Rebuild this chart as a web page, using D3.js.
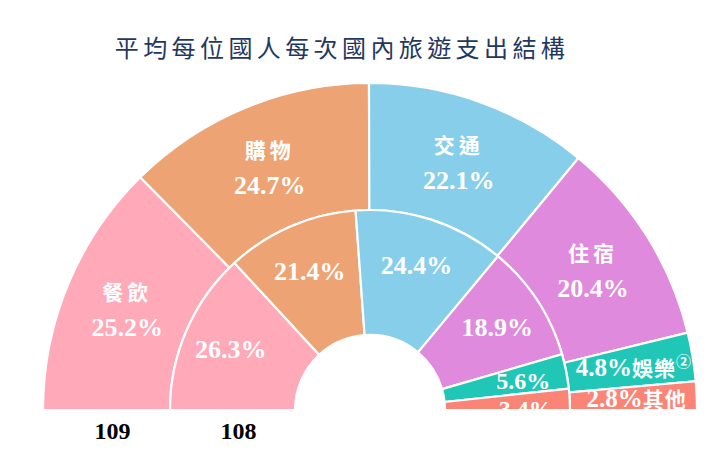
<!DOCTYPE html>
<html>
<head>
<meta charset="utf-8">
<script src="https://cdn.jsdelivr.net/npm/d3@7"></script>
<style>
  html, body { margin: 0; padding: 0; background: #ffffff; }
  svg { display: block; }
</style>
</head>
<body>
<svg id="chart" width="721" height="454"></svg>
<script>
// ---- data ----
const title = "平均每位國人每次國內旅遊支出結構";
const categories = ["餐飲", "購物", "交通", "住宿", "娛樂", "其他"];
const categoryNotes = ["", "", "", "", "②", ""];
const years = ["109", "108"];
const values109 = [25.2, 24.7, 22.1, 20.4, 4.8, 2.8];
const values108 = [26.3, 21.4, 24.4, 18.9, 5.6, 3.4];
const colors = ["#FFA9B9", "#EEA374", "#87CEEA", "#E08ADE", "#21C7B6", "#FA8576"];

// ---- layout ----
const W = 721, H = 454;
const cx = 370, cy = 410;
const rHole = 75, rMid = 200, rOuter = 327;
const serif = "'Liberation Serif', 'Times New Roman', serif";
const cjk = "'Noto Sans CJK TC', 'Noto Sans CJK SC', sans-serif";

const svg = d3.select("#chart");

svg.append("text")
  .attr("x", 342).attr("y", 57)
  .attr("text-anchor", "middle")
  .attr("font-family", cjk)
  .attr("font-size", 24)
  .attr("letter-spacing", 4.4)
  .attr("fill", "#1F3862")
  .text(title);

svg.append("defs").append("clipPath").attr("id", "clipHalf")
  .append("rect").attr("x", 0).attr("y", 0).attr("width", W).attr("height", cy);

const g = svg.append("g").attr("clip-path", "url(#clipHalf)")
  .append("g").attr("transform", `translate(${cx},${cy})`);

const pie = d3.pie().sort(null).value(d => d)
  .startAngle(-Math.PI / 2).endAngle(Math.PI / 2);

const color = d3.scaleOrdinal().domain(categories).range(colors);

const rings = [
  { year: years[0], values: values109, r0: rMid, r1: rOuter, lr: 263, outer: true },
  { year: years[1], values: values108, r0: rHole, r1: rMid, lr: 152, outer: false }
];

rings.forEach(ring => {
  const arcs = pie(ring.values);
  const arc = d3.arc().innerRadius(ring.r0).outerRadius(ring.r1);
  const labelArc = d3.arc().innerRadius(ring.lr).outerRadius(ring.lr);

  g.append("g").selectAll("path").data(arcs).join("path")
    .attr("d", arc)
    .attr("fill", (d, i) => color(categories[i]))
    .attr("stroke", "#ffffff")
    .attr("stroke-width", 2.2);

  const lg = g.append("g");
  arcs.forEach((d, i) => {
    const [x, y] = labelArc.centroid(d);
    const pct = d3.format(".1f")(d.data) + "%";
    const small = d.data < 10;
    const last = i === arcs.length - 1;
    if (ring.outer && !small) {
      lg.append("text")
        .attr("x", x).attr("y", y - 9)
        .attr("text-anchor", "middle")
        .attr("font-family", cjk).attr("font-weight", 700)
        .attr("font-size", 21).attr("letter-spacing", 4)
        .attr("fill", "#ffffff")
        .text(categories[i]);
      lg.append("text")
        .attr("x", x).attr("y", y + 27)
        .attr("text-anchor", "middle")
        .attr("font-family", serif).attr("font-weight", 700)
        .attr("font-size", 26)
        .attr("fill", "#ffffff")
        .text(pct);
    } else if (ring.outer && small) {
      const t = lg.append("text")
        .attr("x", x + 4).attr("y", y + 9)
        .attr("text-anchor", "middle")
        .attr("fill", "#ffffff");
      t.append("tspan").attr("font-family", serif).attr("font-weight", 700)
        .attr("font-size", 25).text(pct);
      t.append("tspan").attr("font-family", cjk).attr("font-weight", 700)
        .attr("font-size", 21).attr("letter-spacing", 1).text(categories[i]);
      if (categoryNotes[i]) {
        t.append("tspan").attr("font-family", cjk).attr("font-weight", 700)
          .attr("font-size", 15).attr("dy", -9).text(categoryNotes[i]);
      }
    } else {
      lg.append("text")
        .attr("x", small ? x + 4 : x)
        .attr("y", small ? (last ? y + 15 : y + 8) : y + 9)
        .attr("text-anchor", "middle")
        .attr("font-family", serif).attr("font-weight", 700)
        .attr("font-size", small ? 24 : 26)
        .attr("fill", "#ffffff")
        .text(pct);
    }
  });
});

// ring year labels under the left side
rings.forEach(ring => {
  svg.append("text")
    .attr("x", cx - (ring.r0 + ring.r1) / 2 + 6)
    .attr("y", 439)
    .attr("text-anchor", "middle")
    .attr("font-family", serif).attr("font-weight", 700)
    .attr("font-size", 24)
    .attr("fill", "#000000")
    .text(ring.year);
});
</script>
</body>
</html>
